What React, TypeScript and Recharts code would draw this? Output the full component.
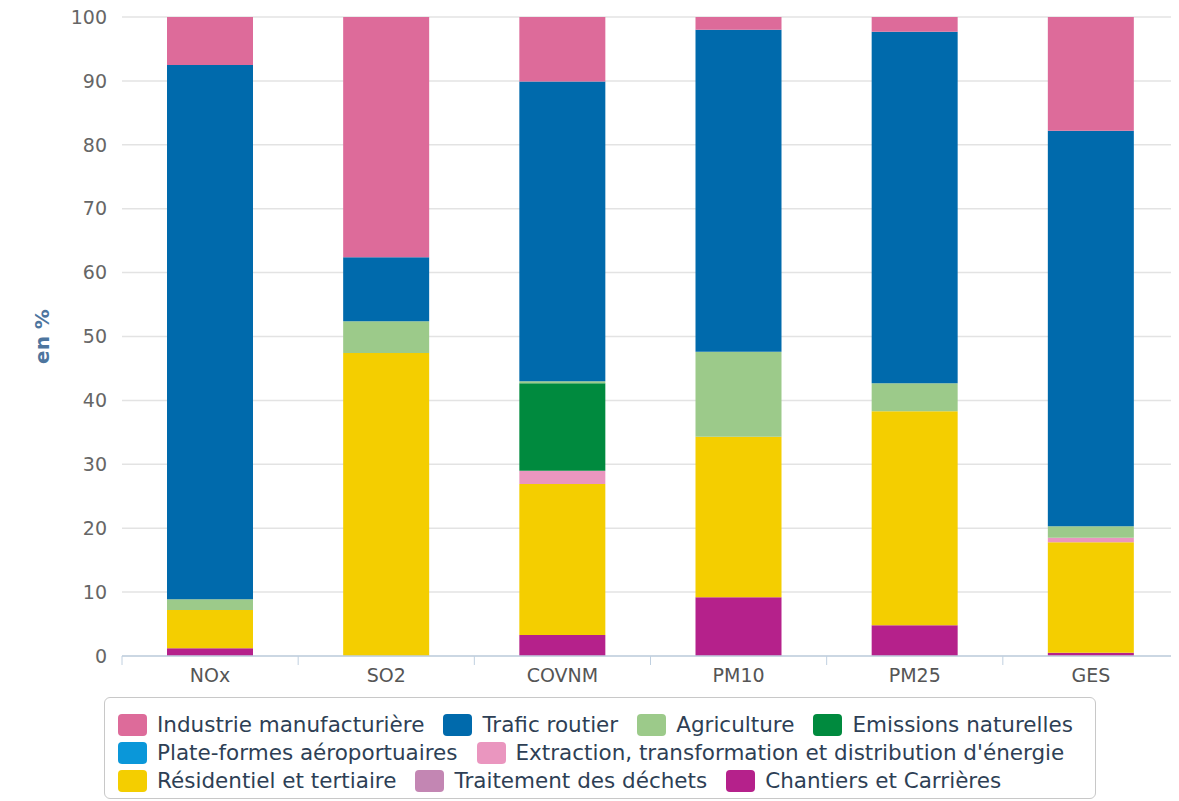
import React from 'react';
import { BarChart, Bar, XAxis, YAxis, CartesianGrid } from 'recharts';

const categories = ['NOx', 'SO2', 'COVNM', 'PM10', 'PM25', 'GES'];
const yTicks = [0, 10, 20, 30, 40, 50, 60, 70, 80, 90, 100];

// Series values (%), bottom of stack first
const chantiers = [1.2, 0, 3.3, 9.2, 4.8, 0.5];
const traitement = [0, 0, 0, 0, 0, 0];
const residentiel = [6.0, 47.4, 23.6, 25.1, 33.5, 17.3];
const extraction = [0, 0, 2.1, 0, 0, 0.7];
const plateformes = [0, 0, 0, 0, 0, 0];
const emissions = [0, 0, 13.7, 0, 0, 0];
const agriculture = [1.7, 5.0, 0.3, 13.3, 4.4, 1.8];
const trafic = [83.6, 10.0, 46.9, 50.4, 55.0, 61.9];
const industrie = [7.5, 37.6, 10.1, 2.0, 2.3, 17.8];

const seriesNames = [
  'Industrie manufacturière',
  'Trafic routier',
  'Agriculture',
  'Emissions naturelles',
  'Plate-formes aéroportuaires',
  "Extraction, transformation et distribution d'énergie",
  'Résidentiel et tertiaire',
  'Traitement des déchets',
  'Chantiers et Carrières',
];
const seriesKeys = ['industrie', 'trafic', 'agriculture', 'emissions', 'plateformes', 'extraction', 'residentiel', 'traitement', 'chantiers'];
const seriesColors = ['#DD6B9A', '#006AAC', '#9CCA8A', '#008A3E', '#0A97D9', '#EA96BF', '#F4CE00', '#C386B3', '#B5218B'];
const seriesValues = [industrie, trafic, agriculture, emissions, plateformes, extraction, residentiel, traitement, chantiers];
const legendRows = [[0, 1, 2, 3], [4, 5], [6, 7, 8]];

const data = categories.map((c, i) => {
  const row: Record<string, any> = { name: c };
  seriesKeys.forEach((k, j) => {
    row[k] = seriesValues[j][i];
  });
  return row;
});

const W = 1171;
const H = 801;
const Y_AXIS_W = 114;
const BAND = (W - Y_AXIS_W) / categories.length;
const FONT = '"DejaVu Sans", Verdana, sans-serif';

const CategoryTick = (props: any) => {
  const { x, y, payload, index } = props;
  const stroke = '#C0D0E0';
  return (
    <g>
      <line x1={x - BAND / 2} x2={x - BAND / 2} y1={y} y2={y + 9} stroke={stroke} strokeWidth={1} />
      {index === categories.length - 1 && (
        <line x1={x + BAND / 2} x2={x + BAND / 2} y1={y} y2={y + 9} stroke={stroke} strokeWidth={1} />
      )}
      <text x={x} y={y + 26} textAnchor="middle" fontSize={19} fontFamily={FONT} fill="#555">
        {payload.value}
      </text>
    </g>
  );
};

export default function App() {
  // stack order: bottom first = reverse of legend order
  const stackOrder = [...seriesKeys.keys()].reverse();
  return (
    <div style={{ position: 'relative', width: W, height: H, marginTop: -8, fontFamily: FONT }}>
      <BarChart width={W} height={H} data={data} margin={{ top: 17, right: 0, left: 0, bottom: 115 }} barSize={86}>
        <CartesianGrid vertical={false} stroke="#E3E3E3" strokeWidth={1.5} />
        <XAxis
          dataKey="name"
          height={30}
          tickLine={false}
          tickSize={0}
          tickMargin={0}
          axisLine={{ stroke: '#C0D0E0', strokeWidth: 1.5 }}
          tick={<CategoryTick />}
          interval={0}
        />
        <YAxis
          width={Y_AXIS_W}
          domain={[0, 100]}
          ticks={yTicks}
          interval={0}
          tickLine={false}
          axisLine={false}
          tickMargin={9}
          tick={{ fontSize: 19, fill: '#666', fontFamily: FONT }}
          label={{
            content: () => (
              <text
                x={33.5}
                y={336.5}
                transform="rotate(-90 33.5 336.5)"
                textAnchor="middle"
                dominantBaseline="central"
                fontSize={20}
                fontWeight="bold"
                fontFamily={FONT}
                fill="#4D759E"
              >
                en %
              </text>
            ),
          }}
        />
        {stackOrder.map((j) => (
          <Bar
            key={seriesKeys[j]}
            dataKey={seriesKeys[j]}
            name={seriesNames[j]}
            stackId="a"
            fill={seriesColors[j]}
            isAnimationActive={false}
          />
        ))}
      </BarChart>
      <div
        style={{
          position: 'absolute',
          left: 96,
          top: 697,
          width: 992,
          height: 102,
          border: '1px solid #C8C8C8',
          borderRadius: 6,
          boxSizing: 'border-box',
          paddingTop: 13,
          paddingLeft: 13,
        }}
      >
        {legendRows.map((row, r) => (
          <div key={r} style={{ display: 'flex', alignItems: 'center', height: 28 }}>
            {row.map((j) => (
              <div key={j} style={{ display: 'flex', alignItems: 'center', marginRight: 19 }}>
                <div
                  style={{
                    width: 29,
                    height: 22,
                    borderRadius: 4,
                    background: seriesColors[j],
                    marginRight: 10,
                  }}
                />
                <span style={{ fontSize: 21.5, color: '#2E3F55', whiteSpace: 'nowrap', lineHeight: '22px' }}>
                  {seriesNames[j]}
                </span>
              </div>
            ))}
          </div>
        ))}
      </div>
    </div>
  );
}
